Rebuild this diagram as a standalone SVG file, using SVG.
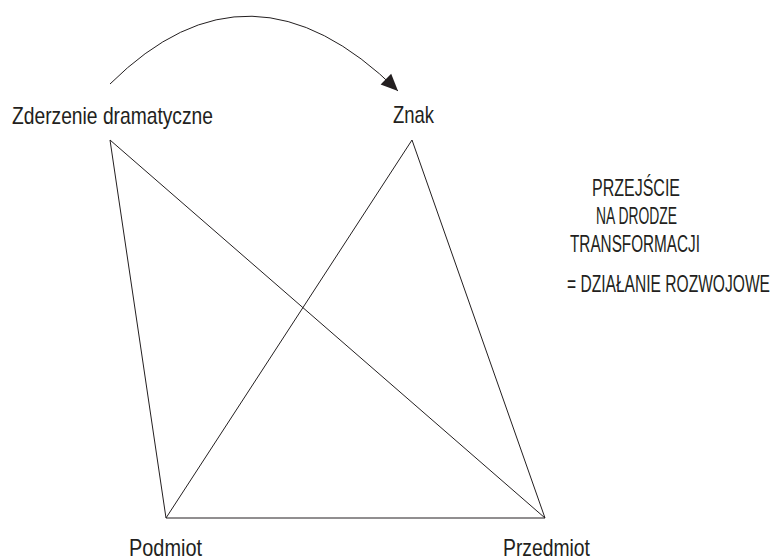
<svg xmlns="http://www.w3.org/2000/svg" width="774" height="557" viewBox="0 0 774 557">
  <style>
    .t { font-family: "Liberation Sans", Arial, sans-serif; font-size: 24px; fill: #231f20; }
    .e { stroke: #231f20; stroke-width: 1; fill: none; }
  </style>
  <defs>
    <marker id="ah" markerUnits="userSpaceOnUse" markerWidth="20" markerHeight="20" viewBox="-18 -9 20 18" refX="0" refY="0" orient="auto">
      <path d="M0,0 L-17,-7.5 L-17,7.5 Z" fill="#231f20"/>
    </marker>
  </defs>
  <rect width="774" height="557" fill="#ffffff"/>
  <g id="connectors">
    <path class="e" d="M110,84 Q250,-55 398,91" marker-end="url(#ah)"/>
    <line class="e" x1="110" y1="140" x2="166" y2="518"/>
    <line class="e" x1="110" y1="140" x2="545" y2="518"/>
    <line class="e" x1="412" y1="140" x2="166" y2="518"/>
    <line class="e" x1="412" y1="140" x2="545" y2="518"/>
    <line class="e" x1="166" y1="518" x2="545" y2="518"/>
  </g>
  <g id="zderzenie">
    <text class="t" x="12" y="124" textLength="201" lengthAdjust="spacingAndGlyphs">Zderzenie dramatyczne</text>
  </g>
  <g id="znak">
    <text class="t" x="393" y="123" textLength="41" lengthAdjust="spacingAndGlyphs">Znak</text>
  </g>
  <g id="podmiot">
    <text class="t" x="129" y="556" textLength="73" lengthAdjust="spacingAndGlyphs">Podmiot</text>
  </g>
  <g id="przedmiot">
    <text class="t" x="503" y="556" textLength="87" lengthAdjust="spacingAndGlyphs">Przedmiot</text>
  </g>
  <g id="note">
    <text class="t" x="592" y="196" textLength="88" lengthAdjust="spacingAndGlyphs">PRZEJŚCIE</text>
    <text class="t" x="596" y="224" textLength="81" lengthAdjust="spacingAndGlyphs">NA DRODZE</text>
    <text class="t" x="570" y="252" textLength="130" lengthAdjust="spacingAndGlyphs">TRANSFORMACJI</text>
    <text class="t" x="567" y="292" textLength="203" lengthAdjust="spacingAndGlyphs">=  DZIAŁANIE ROZWOJOWE</text>
  </g>
</svg>
